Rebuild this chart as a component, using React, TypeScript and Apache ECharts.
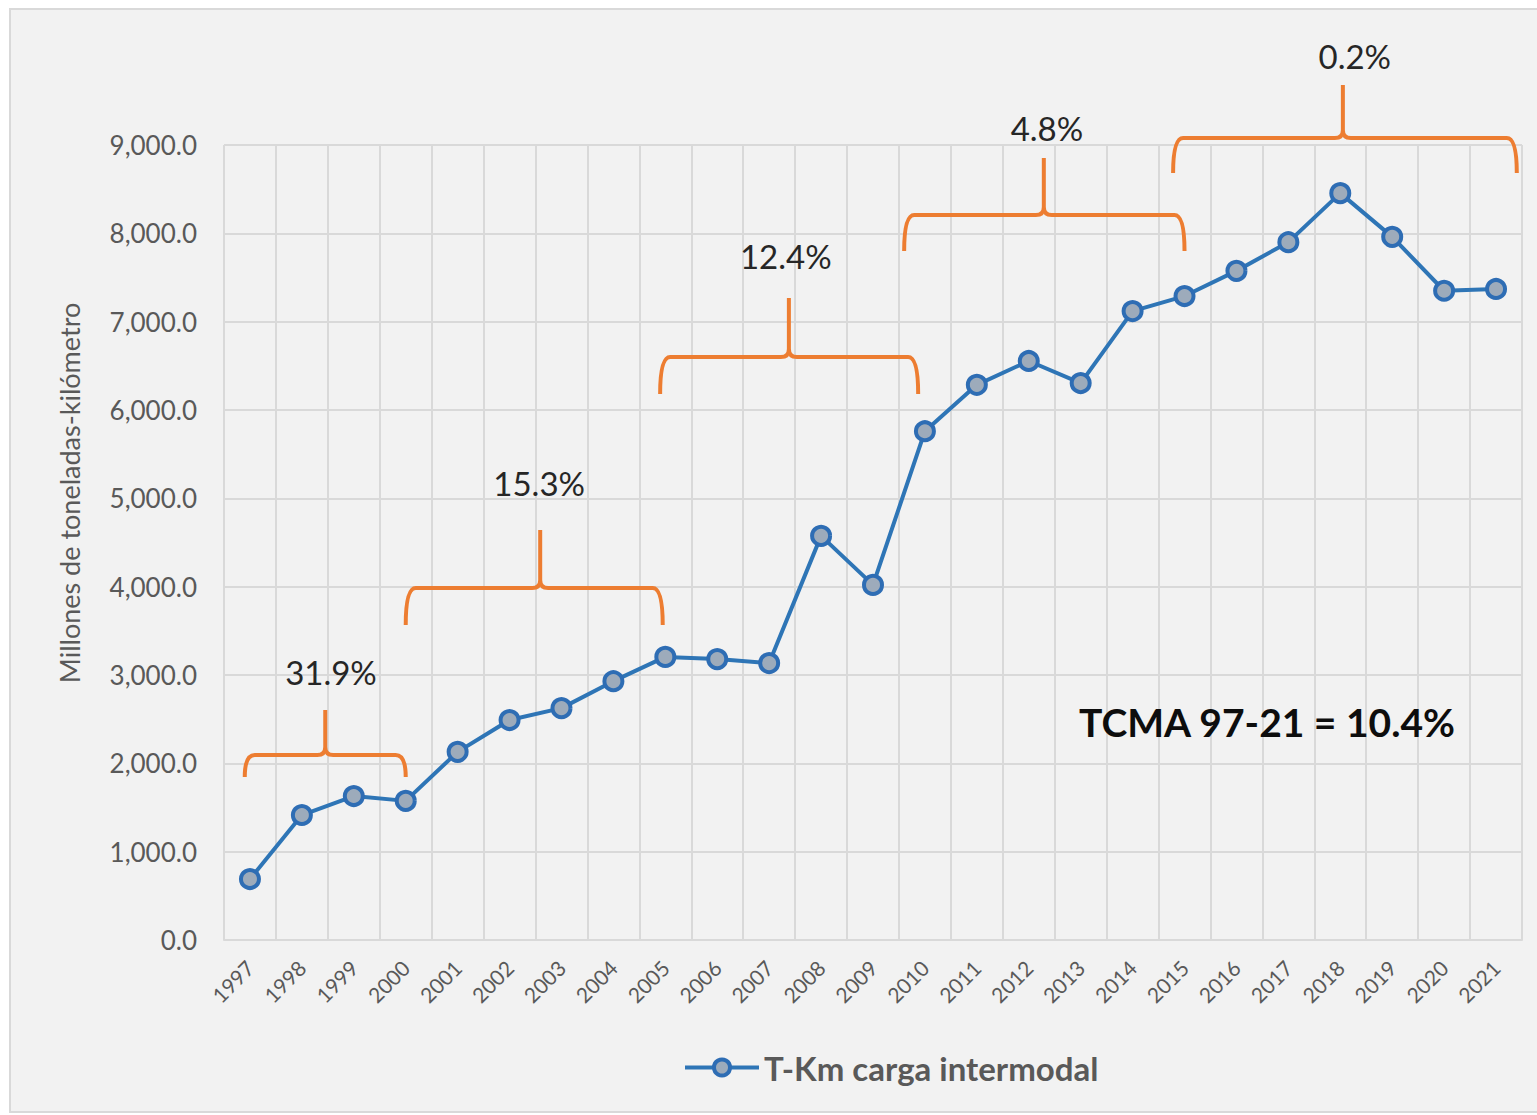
import React, { useEffect, useRef } from "react";
import * as echarts from "echarts";

const years = ["1997","1998","1999","2000","2001","2002","2003","2004","2005","2006","2007","2008","2009","2010","2011","2012","2013","2014","2015","2016","2017","2018","2019","2020","2021"];
const tkm = [690,1415,1630,1575,2130,2490,2625,2930,3205,3180,3135,4575,4020,5760,6285,6555,6305,7120,7290,7575,7900,8455,7960,7350,7370];
const seriesName = "T-Km carga intermodal";
const yAxisTitle = "Millones de toneladas-kilómetro";
const growthLabels = ["31.9%","15.3%","12.4%","4.8%","0.2%"];
// brace spans in category-index / value units
const braceFrom = [-0.1, 3.0, 7.9, 12.6, 17.78];
const braceTo = [3.0, 7.95, 12.87, 18.0, 24.4];
const bracePeak = [1.45, 5.59, 10.38, 15.29, 21.05];
const braceLevel = [2095, 3985, 6600, 8208, 9080];
const braceDrop = [1845, 3566, 6181, 7800, 8683];
const braceTop = [2605, 4642, 7268, 8853, 9680];
const labelAtIdx = [1.56, 5.57, 10.32, 15.35, 21.28];
const labelAtVal = [3034, 5174, 7744, 9193, 10008];
const summaryText = "TCMA 97-21 = 10.4%";

const FONT = "Lato, 'Open Sans', sans-serif";

const Brace = (echarts.graphic as any).extendShape({
  type: "brace",
  shape: { x1: 0, x2: 0, xm: 0, y: 0, yEnd: 0, yPeak: 0 },
  buildPath(ctx: any, s: any) {
    const r = 10;
    const r2 = 8;
    ctx.moveTo(s.x1, s.yEnd);
    ctx.quadraticCurveTo(s.x1, s.y, s.x1 + r, s.y);
    ctx.lineTo(s.xm - r2, s.y);
    ctx.quadraticCurveTo(s.xm, s.y, s.xm, s.y - r2);
    ctx.lineTo(s.xm, s.yPeak);
    ctx.moveTo(s.xm, s.y - r2);
    ctx.quadraticCurveTo(s.xm, s.y, s.xm + r2, s.y);
    ctx.lineTo(s.x2 - r, s.y);
    ctx.quadraticCurveTo(s.x2, s.y, s.x2, s.yEnd);
  },
});
(echarts.graphic as any).registerShape("brace", Brace);

export default function App() {
  const ref = useRef<HTMLDivElement>(null);
  useEffect(() => {
    if (!ref.current) return;
    const chart = echarts.init(ref.current, null, { renderer: "svg" });
    chart.setOption({
      animation: false,
      textStyle: { fontFamily: FONT },
      grid: { left: 224, right: 15, top: 145, bottom: 175 },
      legend: {
        left: 678,
        top: 1046,
        itemWidth: 74,
        itemHeight: 20,
        itemStyle: { color: "#9dabbb", borderColor: "#2e6db4", borderWidth: 4 },
        lineStyle: { color: "#2e75b6", width: 4 },
        textStyle: { fontFamily: FONT, fontSize: 33, fontWeight: "bold", color: "#595959" },
        data: [seriesName],
      },
      xAxis: {
        type: "category",
        data: years,
        boundaryGap: true,
        axisLine: { show: true, lineStyle: { color: "#d9d9d9", width: 2 } },
        axisTick: { show: false },
        axisLabel: { interval: 0, rotate: 45, margin: 24, fontSize: 21, color: "#595959", fontFamily: FONT },
        splitLine: { show: true, interval: 0, lineStyle: { color: "#d9d9d9", width: 2 } },
      },
      yAxis: {
        type: "value",
        min: 0,
        max: 9000,
        interval: 1000,
        axisLine: { show: false },
        axisTick: { show: false },
        axisLabel: {
          margin: 27,
          fontSize: 26,
          color: "#595959",
          fontFamily: FONT,
          formatter: (v: number) => v.toLocaleString("en-US", { minimumFractionDigits: 1, maximumFractionDigits: 1 }),
        },
        splitLine: { show: true, lineStyle: { color: "#d9d9d9", width: 2 } },
      },
      series: [
        {
          name: seriesName,
          type: "line",
          data: tkm,
          symbol: "circle",
          symbolSize: 18,
          lineStyle: { color: "#2e75b6", width: 4 },
          itemStyle: { color: "#9dabbb", borderColor: "#2e6db4", borderWidth: 4 },
          z: 5,
        },
      ],
    });

    const px = (i: number) => {
      const a = chart.convertToPixel({ xAxisIndex: 0 }, 0) as number;
      const b = chart.convertToPixel({ xAxisIndex: 0 }, 1) as number;
      return a + (b - a) * i;
    };
    const py = (v: number) => {
      const a = chart.convertToPixel({ yAxisIndex: 0 }, 0) as number;
      const b = chart.convertToPixel({ yAxisIndex: 0 }, 9000) as number;
      return a + (b - a) * (v / 9000);
    };

    const elements: any[] = [
      {
        type: "rect",
        z: -100,
        silent: true,
        shape: { x: 10, y: 9, width: 1540, height: 1103 },
        style: { fill: "#f2f2f2", stroke: "#d9d9d9", lineWidth: 2 },
      },
      {
        type: "text",
        x: 69,
        y: 493,
        rotation: Math.PI / 2,
        style: {
          text: yAxisTitle,
          fontFamily: FONT,
          fontSize: 27,
          fill: "#595959",
          align: "center",
          verticalAlign: "middle",
        },
      },
      {
        type: "text",
        x: 1267,
        y: 722,
        z: 10,
        style: {
          text: summaryText,
          fontFamily: FONT,
          fontSize: 39,
          fontWeight: "bold",
          fill: "#0d0d0d",
          align: "center",
          verticalAlign: "middle",
        },
      },
    ];
    growthLabels.forEach((lab, k) => {
      elements.push({
        type: "brace",
        z: 10,
        shape: {
          x1: px(braceFrom[k]),
          x2: px(braceTo[k]),
          xm: px(bracePeak[k]),
          y: py(braceLevel[k]),
          yEnd: py(braceDrop[k]),
          yPeak: py(braceTop[k]),
        },
        style: { stroke: "#ed7d31", fill: null, lineWidth: 4 },
      });
      elements.push({
        type: "text",
        x: px(labelAtIdx[k]),
        y: py(labelAtVal[k]),
        z: 10,
        style: {
          text: lab,
          fontFamily: FONT,
          fontSize: 33,
          fill: "#262626",
          align: "center",
          verticalAlign: "middle",
        },
      });
    });
    chart.setOption({ graphic: elements });

    return () => chart.dispose();
  }, []);
  return <div ref={ref} style={{ position: "absolute", left: 0, top: 0, width: 1537, height: 1115 }} />;
}
